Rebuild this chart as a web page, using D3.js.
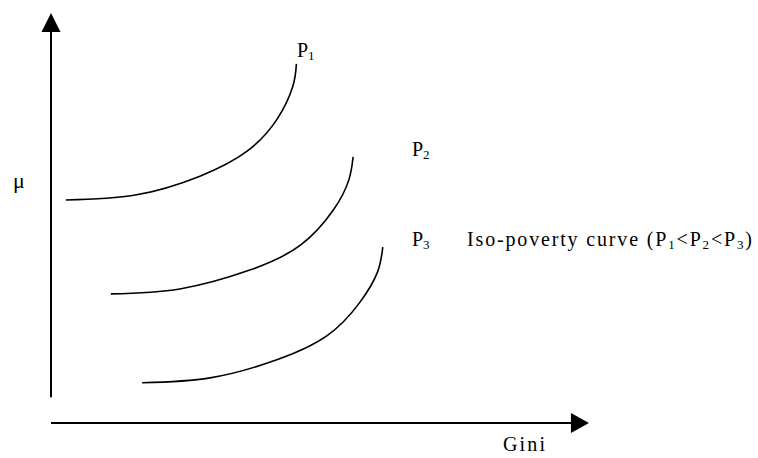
<!DOCTYPE html>
<html>
<head>
<meta charset="utf-8">
<script src="https://cdn.jsdelivr.net/npm/d3@7"></script>
<style>
  html, body { margin: 0; padding: 0; background: #fff; }
  text { font-family: "Liberation Serif", "DejaVu Serif", serif; fill: #000; }
</style>
</head>
<body>
<div id="chart"></div>
<script>
// iso-poverty curves, in (gini, mu) units 0..100
const curveNames = ["1", "2", "3"];
const curve1 = [[2.8, 54.4], [15.9, 55.6], [28.1, 60.2], [37.0, 66.3], [42.6, 74.0], [45.6, 82.0], [46.3, 87.6]];
const curve2 = [[11.3, 31.5], [24.3, 32.7], [37.5, 37.3], [47.0, 43.3], [53.3, 52.0], [56.2, 59.3], [57.0, 64.9]];
const curve3 = [[17.2, 9.8], [30.0, 11.0], [42.6, 15.4], [52.1, 21.3], [58.2, 29.3], [61.6, 36.8], [62.6, 42.9]];
const curves = [curve1, curve2, curve3];

// label anchors (gini, mu)
const labelPos = [[46.4, 89.3], [68.1, 65.1], [68.1, 43.2]];
const legendText = ["Iso-poverty curve (P", "1", "<P", "2", "<P", "3", ")"];

// axis extents
const xAxisExtent = [0, 101.5];
const yAxisExtent = [6.3, 100];

const width = 758, height = 458;

const svg = d3.select("#chart").append("svg")
    .attr("width", width)
    .attr("height", height);

const x = d3.scaleLinear().domain([0, 100]).range([51, 581]);
const y = d3.scaleLinear().domain([0, 100]).range([423, 13]);

// axes
svg.append("line")
    .attr("x1", x(0)).attr("y1", y(yAxisExtent[0]))
    .attr("x2", x(0)).attr("y2", y(yAxisExtent[1]) + 18)
    .attr("stroke", "#000").attr("stroke-width", 2);

svg.append("path")
    .attr("d", `M${x(0)},${y(yAxisExtent[1])} L${x(0) - 9.5},${y(yAxisExtent[1]) + 19} L${x(0) + 9.5},${y(yAxisExtent[1]) + 19} Z`)
    .attr("fill", "#000");

svg.append("line")
    .attr("x1", x(xAxisExtent[0])).attr("y1", y(0))
    .attr("x2", x(xAxisExtent[1]) - 17).attr("y2", y(0))
    .attr("stroke", "#000").attr("stroke-width", 2);

svg.append("path")
    .attr("d", `M${x(xAxisExtent[1])},${y(0)} L${x(xAxisExtent[1]) - 18},${y(0) - 10} L${x(xAxisExtent[1]) - 18},${y(0) + 10} Z`)
    .attr("fill", "#000");

// curves
const line = d3.line()
    .x(d => x(d[0]))
    .y(d => y(d[1]))
    .curve(d3.curveNatural);

svg.selectAll(".iso")
    .data(curves)
    .enter()
    .append("path")
    .attr("class", "iso")
    .attr("d", line)
    .attr("fill", "none")
    .attr("stroke", "#000")
    .attr("stroke-width", 1.6);

// P labels
const labels = svg.selectAll(".plabel")
    .data(curveNames)
    .enter()
    .append("text")
    .attr("class", "plabel")
    .attr("x", (d, i) => x(labelPos[i][0]))
    .attr("y", (d, i) => y(labelPos[i][1]))
    .attr("font-size", 20);
labels.append("tspan").text("P");
labels.append("tspan").attr("font-size", 13).attr("dy", 3).text(d => d);

// legend text next to P3
const legend = svg.append("text")
    .attr("x", 467)
    .attr("y", y(labelPos[2][1]))
    .attr("font-size", 20);
legendText.forEach((t, i) => {
    const isSub = i % 2 === 1;
    legend.append("tspan")
        .attr("font-size", isSub ? 13 : 20)
        .attr("dy", i === 0 ? 0 : (isSub ? 3 : -3))
        .text(t);
});
// stretch to the width of the original's wider serif
legend.attr("textLength", 285).attr("lengthAdjust", "spacing");

// axis titles
svg.append("text")
    .attr("x", 13).attr("y", 188)
    .attr("font-size", 22)
    .text("μ");

svg.append("text")
    .attr("x", 503).attr("y", 451)
    .attr("font-size", 20)
    .attr("textLength", 42)
    .attr("lengthAdjust", "spacing")
    .text("Gini");
</script>
</body>
</html>
